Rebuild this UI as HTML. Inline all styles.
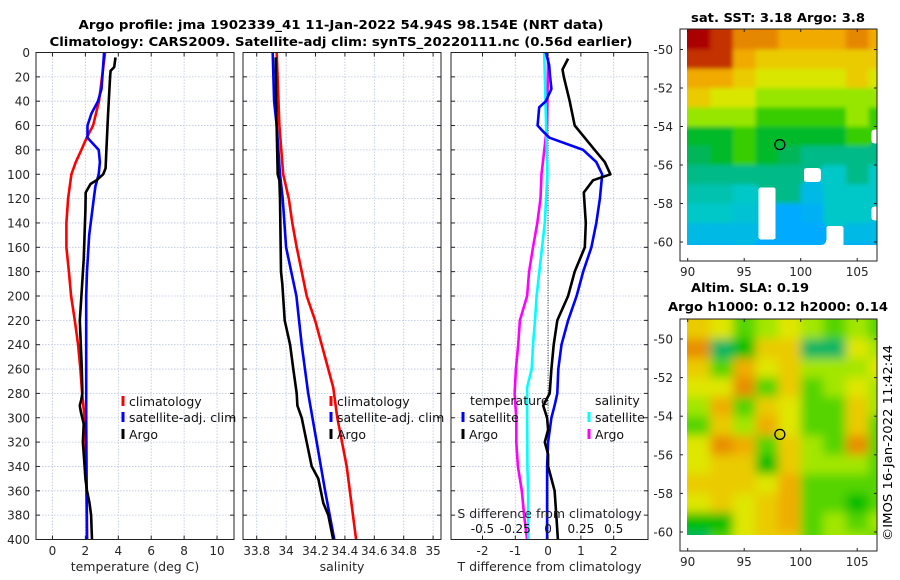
<!DOCTYPE html>
<html><head><meta charset="utf-8"><style>
html,body{margin:0;padding:0;background:#fff;}
svg{display:block;font-family:"DejaVu Sans","Liberation Sans",sans-serif;}
</style></head><body>
<svg id="fig" width="900" height="580" viewBox="0 0 900 580" xmlns="http://www.w3.org/2000/svg">
<defs>
<filter id="blurSST" x="-5%" y="-5%" width="110%" height="110%"><feGaussianBlur stdDeviation="2"/><feComponentTransfer><feFuncA type="discrete" tableValues="0 1 1 1 1 1 1 1"/></feComponentTransfer></filter>
<filter id="blurSLA" x="-5%" y="-5%" width="110%" height="110%"><feGaussianBlur stdDeviation="5"/><feComponentTransfer><feFuncA type="discrete" tableValues="0 1 1 1 1 1 1 1"/></feComponentTransfer></filter>
</defs>
<rect width="900" height="580" fill="#fff"/>
<text x="341" y="29" text-anchor="middle" font-weight="bold" font-size="12.5" textLength="525" lengthAdjust="spacingAndGlyphs">Argo profile: jma 1902339_41 11-Jan-2022 54.94S 98.154E (NRT data)</text>
<text x="341" y="46" text-anchor="middle" font-weight="bold" font-size="12.5" textLength="583" lengthAdjust="spacingAndGlyphs">Climatology: CARS2009. Satellite-adj clim: synTS_20220111.nc (0.56d earlier)</text>
<g id="panels"></g>
<g id="maps"></g>
<text transform="translate(892,541) rotate(-90)" font-size="12" textLength="196" lengthAdjust="spacingAndGlyphs">©IMOS 16-Jan-2022 11:42:44</text>
</svg>
<script>
// ---------- profile data ----------
const tClimD=[0,40,60,70,80,90,100,120,140,160,180,200,220,240,260,280,300,340,400];
const tClimV=[3.2,2.83,2.47,2.08,1.76,1.42,1.15,0.95,0.85,0.85,1.0,1.13,1.36,1.56,1.7,1.8,1.95,2.05,2.1];
const tSatD=[0,30,40,50,60,70,80,90,100,110,120,150,180,200,250,300,400];
const tSatV=[3.14,2.98,2.77,2.37,2.13,2.13,2.81,2.88,2.81,2.61,2.51,2.23,2.1,2.05,2.05,2.05,2.1];
const tArgoD=[4,12,15,20,50,80,95,100,105,108,115,130,170,200,220,240,260,280,285,290,295,305,320,340,350,360,370,380,400];
const tArgoV=[3.83,3.75,3.53,3.5,3.38,3.28,3.23,3.08,2.67,2.31,2.02,2.0,1.9,1.76,1.66,1.72,1.78,1.82,1.75,1.66,1.72,1.9,1.85,1.95,2.0,2.1,2.25,2.35,2.4];
const sClimD=[0,60,100,120,140,160,180,200,220,240,260,275,300,340,400];
const sClimV=[33.936,33.954,33.98,34.018,34.042,34.072,34.106,34.14,34.197,34.242,34.287,34.32,34.348,34.412,34.476];
const sSatD=[0,40,60,100,120,160,200,240,280,320,360,400];
const sSatV=[33.909,33.918,33.936,33.958,33.977,34.0,34.07,34.106,34.15,34.208,34.265,34.328];
const sArgoD=[4,40,100,105,120,180,190,220,240,260,280,290,300,320,340,350,370,380,400];
const sArgoV=[33.93,33.932,33.943,33.954,33.958,33.965,33.974,33.99,34.027,34.049,34.072,34.077,34.106,34.14,34.174,34.219,34.253,34.287,34.32];
const dTArgoD=[5,14,20,40,60,80,90,100,105,115,140,160,180,200,220,240,260,280,290,300,310,320,330,340,350,360,380,400];
const dTArgoV=[0.61,0.44,0.48,0.66,0.81,1.42,1.73,1.90,1.37,1.09,1.15,1.12,0.81,0.61,0.28,0.17,0.1,0.05,-0.15,-0.03,0,-0.1,0,0,0.1,0.2,0.25,0.3];
const dTSatD=[0,10,20,30,40,45,60,65,70,80,90,100,120,140,160,180,200,220,240,260,280,290,300,320,340,400];
const dTSatV=[-0.07,0.03,0.06,0.1,-0.07,-0.27,-0.32,-0.15,0.04,1.07,1.47,1.65,1.58,1.47,1.32,1.07,0.87,0.61,0.41,0.31,0.28,0.2,0.1,0,-0.03,-0.03];
const dSSatD=[0,100,140,200,220,240,260,275,300,340,360,400];
const dSSatV=[-0.03,-0.005,-0.025,-0.0875,-0.1,-0.115,-0.125,-0.16,-0.16,-0.1575,-0.1525,-0.15];
const dSArgoD=[4,60,100,120,140,160,180,200,220,240,260,280,300,320,340,360,380,400];
const dSArgoV=[0,-0.0075,-0.05,-0.0575,-0.0825,-0.115,-0.145,-0.16,-0.215,-0.2275,-0.245,-0.255,-0.2425,-0.2425,-0.23,-0.2,-0.1825,-0.16];
const depthTicks=[0,20,40,60,80,100,120,140,160,180,200,220,240,260,280,300,320,340,360,380,400];
const tTicks=[0,2,4,6,8,10];
const sTicks=[33.8,34,34.2,34.4,34.6,34.8,35];
const sTickLabels=["33.8","34","34.2","34.4","34.6","34.8","35"];
const dTTicks=[-2,-1,0,1,2];
const dSTicks=[-0.5,-0.25,0,0.25,0.5];
const dSTickLabels=["-0.5","-0.25","0","0.25","0.5"];
// ---------- map data ----------
const mapLonStart=90, mapColStep=2, mapLatTop=-49, mapRowStep=1;
const sstGrid=[
[8.5,8,7,7,6.5,6.5,6.5,7,6.5],
[8,8,6.5,6,6,6,6,6,6],
[6.5,6.5,6,5.5,5.5,5.5,5.5,6,5.5],
[6,5.5,5.5,5,5,5,5,5,5],
[5,5,5,4.5,4.5,4.5,4.5,5,4.5],
[4,4,4.5,4,4,4,4,4.5,null],
[3.8,4,4.5,4,3.8,3.5,3.5,3.5,3.5],
[3.5,3.5,3.5,3.5,3.5,null,3,3.5,3],
[3.2,3.2,3,null,3.5,2.5,3,3,3],
[3,3,2.8,null,2,2.2,3,3,null],
[2.5,2.5,2.5,null,2,2,null,2.5,2.5],
[2.3,2.3,null,2,2,null,null,2.2,2.2]];
const slaGrid=[
[0.2,0.1,-0.1,0,0.1,0,-0.1,0,-0.1],
[0.4,-0.3,-0.2,0.2,0.2,-0.3,-0.3,0.1,0],
[0.2,-0.1,0.3,0.1,0.2,0,0,0,0.1],
[0.1,0.1,0.4,-0.1,0.2,-0.1,0,0.1,0],
[0,0.3,-0.1,0.2,0.1,-0.1,-0.1,0.2,0],
[-0.1,0.2,0,0.3,0.1,-0.1,-0.1,0.2,-0.1],
[0.1,0.4,0.3,-0.1,0.2,0,-0.1,0.4,-0.1],
[0.1,0.2,0.2,-0.2,0.2,0,0,0,-0.1],
[0.2,0.2,0.2,0.1,0.3,-0.1,-0.1,-0.1,-0.1],
[0.1,0.2,0.1,0.2,0.3,-0.1,-0.1,-0.2,-0.1],
[-0.2,-0.2,0.1,0.2,0.3,-0.1,0,-0.1,0],
[-0.3,-0.1,0.1,0.2,0.2,-0.1,0,0,-0.1]];
const argoLon=98.154, argoLat=-54.94;
const mapLonTicks=[90,95,100,105];
const mapLatTicks=[-50,-52,-54,-56,-58,-60];

const NS="http://www.w3.org/2000/svg";
function mk(tag,attrs,parent){const e=document.createElementNS(NS,tag);for(const k in attrs)e.setAttribute(k,attrs[k]);parent.appendChild(e);return e;}
const panelsG=document.getElementById('panels');
const Y0=52.5, YS=1.2175;
const yD=d=>Y0+d*YS;

function makePanel(name,x0,x1,xmin,xmax){
  const g=mk('g',{},panelsG);
  
  
  mk('rect',{x:x0,y:52.5,width:x1-x0,height:487,fill:'#fff'},g);
  const sx=v=>x0+(v-xmin)/(xmax-xmin)*(x1-x0);
  return {g,sx,x0,x1};
}
function grid(p,xt){
  const gg=mk('g',{stroke:'#b8c4e0','stroke-width':0.8,'stroke-dasharray':'1.5,1.5'},p.g);
  
  
  depthTicks.forEach(d=>mk('line',{x1:p.x0,x2:p.x1,y1:yD(d),y2:yD(d)},gg));
  xt.forEach(v=>mk('line',{x1:p.sx(v),x2:p.sx(v),y1:52.5,y2:539.5},gg));
}
function frame(p,xt,labels,showY){
  const fg=mk('g',{stroke:'#222','stroke-width':1},p.g);
  
  
  mk('rect',{x:p.x0,y:52.5,width:p.x1-p.x0,height:487,fill:'none'},fg);
  depthTicks.forEach(d=>{mk('line',{x1:p.x0,x2:p.x0+4,y1:yD(d),y2:yD(d)},fg);mk('line',{x1:p.x1-4,x2:p.x1,y1:yD(d),y2:yD(d)},fg);});
  xt.forEach(v=>{mk('line',{x1:p.sx(v),x2:p.sx(v),y1:52.5,y2:56.5},fg);mk('line',{x1:p.sx(v),x2:p.sx(v),y1:535.5,y2:539.5},fg);});
  xt.forEach((v,i)=>{const t=mk('text',{x:p.sx(v),y:555,'text-anchor':'middle','font-size':12,fill:'#262626'},p.g);t.textContent=labels[i];
    
    });
  if(showY) depthTicks.forEach(d=>{const t=mk('text',{x:30,y:yD(d)+4.5,'text-anchor':'end','font-size':12,fill:'#262626'},p.g);t.textContent=String(d);
    
    });
}
function series(p,D,V,color,name,scale){
  const pts=D.map((d,i)=>p.sx(V[i]*(scale||1)).toFixed(1)+','+yD(d).toFixed(1)).join(' ');
  const pl=mk('polyline',{points:pts,fill:'none',stroke:color,'stroke-width':2.6,'stroke-linejoin':'round'},p.g);
  
  
}
function legendEntry(p,x,y,color,label,name){
  const lg=mk('g',{},p.g);
  
  
  mk('rect',{x:x-1.5,y:y-10,width:3,height:10,fill:color},lg);
  const t=mk('text',{x:x+6,y:y,'font-size':12.5,fill:'#111'},lg);t.textContent=label;
}
function axisTitle(p,text,name,y){
  const t=mk('text',{x:(p.x0+p.x1)/2,y:y||571,'text-anchor':'middle','font-size':12.5,fill:'#262626'},p.g);t.textContent=text;
  
  
}
// Panel 1: temperature
const p1=makePanel('temperature-panel',36,234,-1,11.03);
grid(p1,tTicks);
series(p1,tClimD,tClimV,'#ff0000','temp-climatology-line');
series(p1,tSatD,tSatV,'#0000ff','temp-satellite-adj-line');
series(p1,tArgoD,tArgoV,'#000000','temp-argo-line');
frame(p1,tTicks,tTicks.map(String),true);
legendEntry(p1,123,406,'#ff0000','climatology','legend-climatology');
legendEntry(p1,123,422,'#0000ff','satellite-adj. clim','legend-satellite-adj');
legendEntry(p1,123,439,'#000000','Argo','legend-argo');
axisTitle(p1,'temperature (deg C)','x-axis-title-temperature');
// Panel 2: salinity
const p2=makePanel('salinity-panel',243,441,33.7066,35.0537);
grid(p2,sTicks);
series(p2,sClimD,sClimV,'#ff0000','sal-climatology-line');
series(p2,sSatD,sSatV,'#0000ff','sal-satellite-adj-line');
series(p2,sArgoD,sArgoV,'#000000','sal-argo-line');
frame(p2,sTicks,sTickLabels,false);
legendEntry(p2,331,406,'#ff0000','climatology','legend-climatology');
legendEntry(p2,331,422,'#0000ff','satellite-adj. clim','legend-satellite-adj');
legendEntry(p2,331,439,'#000000','Argo','legend-argo');
axisTitle(p2,'salinity','x-axis-title-salinity');
// Panel 3: differences
const p3=makePanel('difference-panel',451,648,-2.96,3.046);
grid(p3,dTTicks);
const zl=mk('line',{x1:p3.sx(0),x2:p3.sx(0),y1:52.5,y2:539.5,stroke:'#333','stroke-width':1,'stroke-dasharray':'1,1.5'},p3.g);


series(p3,dSArgoD,dSArgoV,'#ff00ff','sal-diff-argo-line',4);
series(p3,dSSatD,dSSatV,'#00ffff','sal-diff-satellite-line',4);
series(p3,dTSatD,dTSatV,'#0000ff','temp-diff-satellite-line');
series(p3,dTArgoD,dTArgoV,'#000000','temp-diff-argo-line');
frame(p3,dTTicks,dTTicks.map(String),false);
[['temperature',470],['salinity',595]].forEach(([s,x])=>{const t=mk('text',{x:x,y:405,'font-size':12.5,fill:'#111'},p3.g);t.textContent=s;
  
  });
legendEntry(p3,463,422,'#0000ff','satellite','legend-temp-satellite');
legendEntry(p3,463,439,'#000000','Argo','legend-temp-argo');
legendEntry(p3,589,422,'#00ffff','satellite','legend-sal-satellite');
legendEntry(p3,589,439,'#ff00ff','Argo','legend-sal-argo');
axisTitle(p3,'S difference from climatology','s-axis-title',518);
dSTicks.forEach((v,i)=>{const t=mk('text',{x:p3.sx(v*4),y:533,'text-anchor':'middle','font-size':12,fill:'#111'},p3.g);t.textContent=dSTickLabels[i];
  
  });
axisTitle(p3,'T difference from climatology','x-axis-title-t-diff');

// ---------- maps ----------
const stops=[[1,[0,90,255]],[2,[0,170,255]],[3,[0,200,200]],[3.7,[0,180,110]],[4.2,[0,190,0]],[5,[150,230,0]],[5.6,[230,230,0]],[6.5,[240,170,0]],[7.5,[220,100,0]],[8.5,[170,0,0]]];
function cmap(v){
  if(v<=stops[0][0])return 'rgb('+stops[0][1]+')';
  for(let i=1;i<stops.length;i++){if(v<=stops[i][0]){const a=stops[i-1],b=stops[i],f=(v-a[0])/(b[0]-a[0]);
    return 'rgb('+a[1].map((c,k)=>Math.round(c+(b[1][k]-c)*f)).join(',')+')';}}
  return 'rgb('+stops[stops.length-1][1]+')';
}
const mapsG=document.getElementById('maps');
function makeMap(name,boxTop,boxBot,lat50y,lat60y,grid,toIdx,dataBottom,titles,filt){
  const g=mk('g',{},mapsG);
  
  
  const lx=lon=>687.7+(lon-90)*11.3;
  const ly=lat=>lat50y+(-50-lat)*(lat60y-lat50y)/10;
  const clip=mk('clipPath',{id:name+'-clip'},g);
  mk('rect',{x:687,y:boxTop,width:190,height:dataBottom-boxTop},clip);
  const outer=mk('g',{'clip-path':'url(#'+name+'-clip)'},g);
  const cg=mk('g',{filter:'url(#'+filt+')'},outer);
  grid.forEach((row,r)=>row.forEach((v,c)=>{
    if(v===null)return;
    const x=lx(mapLonStart+c*mapColStep), y=ly(mapLatTop-r*mapRowStep);
    const cell=mk('rect',{x:x.toFixed(1),y:y.toFixed(1),width:(mapColStep*11.3+0.6).toFixed(1),height:(mapRowStep*(lat60y-lat50y)/10+0.6).toFixed(1),fill:cmap(toIdx(v))},cg);
    
    
  }));
  mk('rect',{x:680,y:boxTop,width:197,height:boxBot-boxTop,fill:'none',stroke:'#222','stroke-width':1},g);
  const m=mk('circle',{cx:lx(argoLon),cy:ly(argoLat),r:5,fill:'none',stroke:'#000','stroke-width':1.3},g);
  
  
  mapLonTicks.forEach(lon=>{const t=mk('text',{x:lx(lon),y:boxBot+15,'text-anchor':'middle','font-size':12,fill:'#262626'},g);t.textContent=String(lon);
    
    
    mk('line',{x1:lx(lon),x2:lx(lon),y1:boxBot,y2:boxBot-3,stroke:'#222'},g);
    mk('line',{x1:lx(lon),x2:lx(lon),y1:boxTop,y2:boxTop+3,stroke:'#222'},g);});
  mapLatTicks.forEach(lat=>{const t=mk('text',{x:673,y:ly(lat)+4.5,'text-anchor':'end','font-size':12,fill:'#262626'},g);t.textContent=String(lat);
    
    
    mk('line',{x1:680,x2:683,y1:ly(lat),y2:ly(lat),stroke:'#222'},g);
    mk('line',{x1:874,x2:877,y1:ly(lat),y2:ly(lat),stroke:'#222'},g);});
  titles.forEach(([txt,x,y,w])=>{const t=mk('text',{x:x,y:y,'text-anchor':'middle','font-size':12.5,'font-weight':'bold',textLength:w,lengthAdjust:'spacingAndGlyphs'},g);t.textContent=txt;
    
    });
}
makeMap('sst-map',29,261,49.5,242,sstGrid,v=>v,245,[['sat. SST: 3.18 Argo: 3.8',778,22,174]],'blurSST');
makeMap('sla-map',319,551,339,532,slaGrid,v=>5.1+v*4.5,535,[['Altim. SLA: 0.19',750,292,118],['Argo h1000: 0.12 h2000: 0.14',778,311,220]],'blurSLA');
</script>
</body></html>
